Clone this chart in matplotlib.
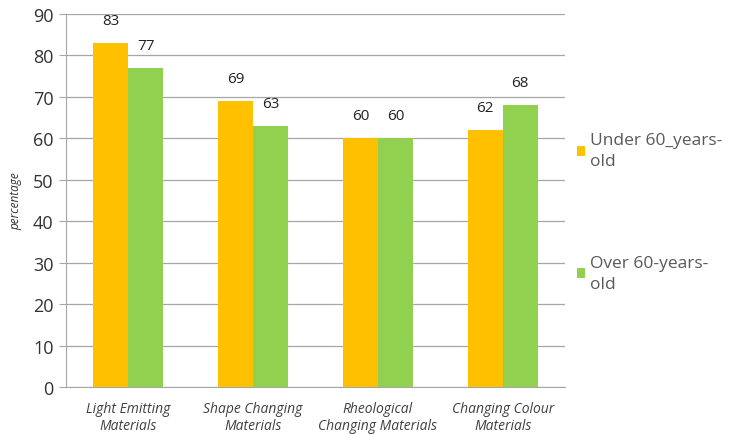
import matplotlib.pyplot as plt
import numpy as np

plt.rcParams['font.family'] = ['Open Sans', 'DejaVu Sans']

categories = ['Light Emitting\nMaterials', 'Shape Changing\nMaterials',
              'Rheological\nChanging Materials', 'Changing Colour\nMaterials']
under_60 = [83, 69, 60, 62]
over_60 = [77, 63, 60, 68]
series_names = ['Under 60_years-\nold', 'Over 60-years-\nold']

fig = plt.figure(figsize=(7.35, 4.35), dpi=100)
ax = fig.add_axes([0.0898, 0.108, 0.679, 0.8575])

x = np.arange(len(categories))
w = 0.28
b1 = ax.bar(x - w / 2, under_60, w, color='#FFC000', label=series_names[0], zorder=3)
b2 = ax.bar(x + w / 2, over_60, w, color='#92D050', label=series_names[1], zorder=3)

for bars, vals in [(b1, under_60), (b2, over_60)]:
    for rect, v in zip(bars, vals):
        ax.text(rect.get_x() + rect.get_width() / 2, v + 3.6, str(v),
                ha='center', va='bottom', fontsize=11, color='#222222')

ax.set_xlim(-0.5, 3.5)
ax.set_ylim(0, 90)
ax.set_yticks(range(0, 91, 10))
ax.yaxis.grid(True, color='#a6a6a6', linewidth=0.9, zorder=0)
ax.set_xticks(x)
ax.set_xticklabels(categories, fontsize=10, style='italic', color='#404040', linespacing=1.2)
ax.tick_params(axis='x', length=0, pad=10)
ax.tick_params(axis='y', length=5, color='#a6a6a6', labelsize=13, labelcolor='#333333', pad=4)
for s in ['top', 'right']:
    ax.spines[s].set_visible(False)
for s in ['left', 'bottom']:
    ax.spines[s].set_color('#a6a6a6')
ax.set_ylabel('percentage', fontsize=8.5, style='italic', color='#333333', labelpad=8)

leg = fig.legend(loc='upper left', bbox_to_anchor=(0.775, 0.71), frameon=False,
                 fontsize=12.5, labelcolor='#595959', handlelength=0.5, handleheight=0.5,
                 handletextpad=0.3, labelspacing=4.9, borderaxespad=0)
for t in leg.get_texts():
    t.set_linespacing(1.45)

fig.savefig('out.png', dpi=100)
